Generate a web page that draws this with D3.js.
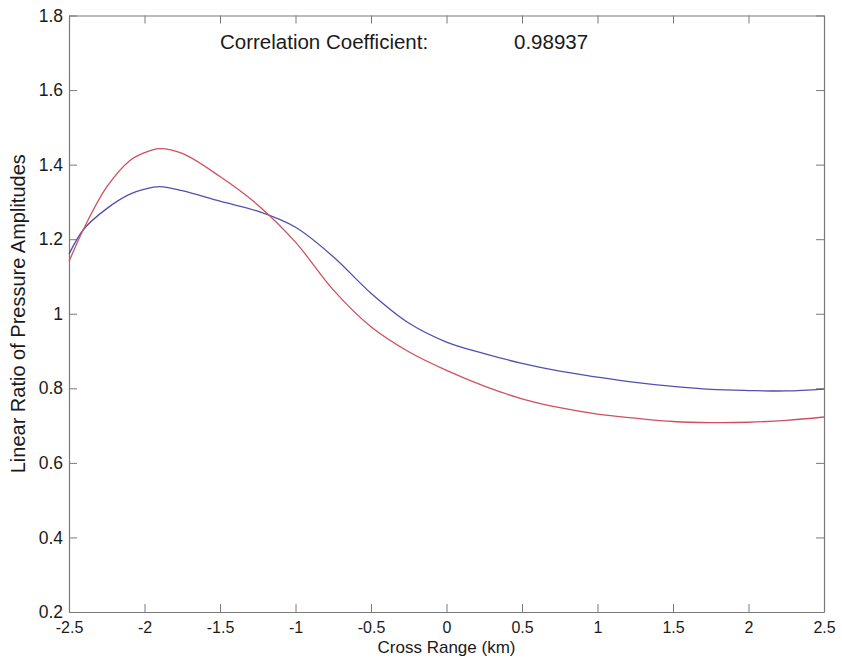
<!DOCTYPE html>
<html lang="en">
<head>
  <meta charset="utf-8">
  <title>Correlation of pressure amplitudes</title>
  <script src="https://cdn.jsdelivr.net/npm/d3@7"></script>
  <style>
    body { margin: 0; background: #fff; }
    svg text { font-family: "Liberation Sans", Arial, sans-serif; fill: #1a1a1a; }
    .axis path, .axis line { stroke: #7a7a7a; }
    .axis text { font-size: 16px; }
    .yaxis text { font-size: 17.5px; }
  </style>
</head>
<body>
<script>
  // cross range (km) sample positions
  var crossRange = [-2.5, -2.4, -2.25, -2.1, -2.0, -1.9, -1.75, -1.5, -1.25, -1.0, -0.75, -0.5,
                    -0.25, 0, 0.25, 0.5, 0.75, 1.0, 1.25, 1.5, 1.75, 2.0, 2.25, 2.5];
  // red curve
  var redRatio = [1.14, 1.23, 1.34, 1.41, 1.432, 1.443, 1.43, 1.368, 1.292, 1.192, 1.064, 0.965,
                  0.898, 0.848, 0.806, 0.772, 0.748, 0.731, 0.72, 0.711, 0.708, 0.709, 0.714, 0.723];
  // blue curve
  var blueRatio = [1.16, 1.228, 1.282, 1.32, 1.334, 1.341, 1.33, 1.302, 1.275, 1.232, 1.153, 1.055,
                   0.975, 0.924, 0.893, 0.867, 0.846, 0.83, 0.816, 0.805, 0.797, 0.794, 0.793, 0.798];

  var xTicks = [-2.5, -2, -1.5, -1, -0.5, 0, 0.5, 1, 1.5, 2, 2.5];
  var yTicks = [0.2, 0.4, 0.6, 0.8, 1, 1.2, 1.4, 1.6, 1.8];

  var width = 842, height = 665;
  var margin = {top: 15.5, right: 18, bottom: 53, left: 69};

  var svg = d3.select("body").append("svg")
    .attr("width", width)
    .attr("height", height);

  var x = d3.scaleLinear().domain([-2.5, 2.5]).range([margin.left, width - margin.right]);
  var y = d3.scaleLinear().domain([0.2, 1.8]).range([height - margin.bottom, margin.top]);

  var fmt = function (d) { return String(+d.toFixed(2)); };

  // axes, ticks pointing inwards (box on)
  svg.append("g").attr("class", "axis")
    .attr("transform", "translate(0," + y(0.2) + ")")
    .call(d3.axisBottom(x).tickValues(xTicks).tickFormat(fmt).tickSize(-8).tickSizeOuter(0).tickPadding(10));
  svg.append("g").attr("class", "axis")
    .attr("transform", "translate(0," + y(1.8) + ")")
    .call(d3.axisTop(x).tickValues(xTicks).tickFormat("").tickSize(-8).tickSizeOuter(0));
  svg.append("g").attr("class", "axis yaxis")
    .attr("transform", "translate(" + x(-2.5) + ",0)")
    .call(d3.axisLeft(y).tickValues(yTicks).tickFormat(fmt).tickSize(-8).tickSizeOuter(0).tickPadding(6));
  svg.append("g").attr("class", "axis")
    .attr("transform", "translate(" + x(2.5) + ",0)")
    .call(d3.axisRight(y).tickValues(yTicks).tickFormat("").tickSize(-8).tickSizeOuter(0));

  svg.selectAll(".axis .domain").attr("stroke-width", 1.2);

  var line = d3.line()
    .x(function (d) { return x(d[0]); })
    .y(function (d) { return y(d[1]); })
    .curve(d3.curveCatmullRom.alpha(0.5));

  svg.append("path")
    .datum(d3.zip(crossRange, blueRatio))
    .attr("fill", "none")
    .attr("stroke", "#5050b0")
    .attr("stroke-width", 1.3)
    .attr("d", line);

  svg.append("path")
    .datum(d3.zip(crossRange, redRatio))
    .attr("fill", "none")
    .attr("stroke", "#d0505f")
    .attr("stroke-width", 1.3)
    .attr("d", line);

  // annotation
  svg.append("text")
    .attr("x", x(-1.5))
    .attr("y", y(1.709))
    .style("font-size", "20.5px")
    .text("Correlation Coefficient:");
  svg.append("text")
    .attr("x", x(0.447))
    .attr("y", y(1.709))
    .style("font-size", "20.5px")
    .text("0.98937");

  // axis titles
  svg.append("text")
    .attr("x", x(0))
    .attr("y", 653)
    .attr("text-anchor", "middle")
    .style("font-size", "17px")
    .text("Cross Range (km)");
  svg.append("text")
    .attr("transform", "translate(25," + y(1) + ") rotate(-90)")
    .attr("text-anchor", "middle")
    .style("font-size", "20px")
    .text("Linear Ratio of Pressure Amplitudes");
</script>
</body>
</html>
